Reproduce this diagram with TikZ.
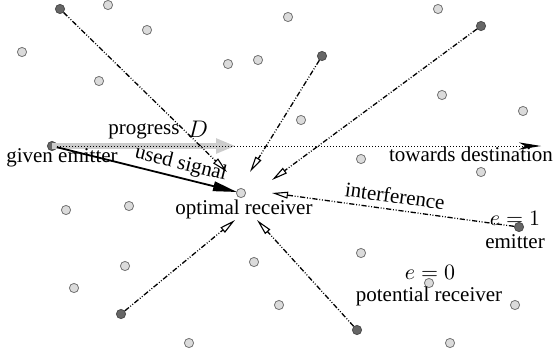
\documentclass[tikz,border=0pt]{standalone}
\usepackage{fontspec}
\setmainfont{Liberation Serif}
\usetikzlibrary{arrows.meta}
\begin{document}
\begin{tikzpicture}[x=0.5pt,y=-0.5pt,
  rx/.style={circle,draw=black!55,fill=black!14,line width=0.4pt,inner sep=0pt,minimum size=4.6pt},
  em/.style={circle,draw=black!70,fill=black!60,line width=0.4pt,inner sep=0pt,minimum size=4.6pt},
  interf/.style={line width=0.65pt,dash pattern=on 2.6pt off 0.9pt on 0.45pt off 0.9pt on 0.45pt off 0.9pt,
    -{Triangle[open,length=8pt,width=3.4pt,line width=0.55pt]}},
  lbl/.style={font=\fontsize{10.5}{12}\selectfont,inner sep=0pt}
]
\useasboundingbox (0,0) rectangle (555,359);
% potential receivers
\foreach \n/\x/\y in {a/108/5,b/147/30,c/22/52,d/99/81,f/228/64,g/258/60,h/288/17,i/438/9,j/442/95,k/523/111,
  l/301/120,m/361/159,o/481/172,p/66/210,q/129/206,r/125/266,s/74/288,u/254/262,v/279/305,w/189/343,
  z/361/253,aa/429/283,ab/515/305,ac/450/343}
  \node[rx] (r\n) at (\x,\y) {};
\node[rx] (rec) at (241,193) {};
% emitters
\node[em] (e1) at (60,9) {};
\node[em] (e2) at (322,56) {};
\node[em] (e3) at (481,26) {};
\node[em] (e4) at (519,227) {};
\node[em] (e5) at (121,314) {};
\node[em] (e6) at (357,330) {};
\node[em] (ge) at (52,146) {};
% arrow end points
\coordinate (t1) at (227,172);
\coordinate (t2) at (250,172);
\coordinate (t3) at (272,180);
\coordinate (t4) at (272,193);
\coordinate (t5) at (235,220);
\coordinate (t6) at (257,220);
\coordinate (proj) at (236,146);
\coordinate (dest) at (541,146);
\coordinate (ut) at (237,192);
% progress
\draw[line width=2.6pt,black!20,-{Triangle[length=10pt,width=7pt]}] (ge.center) -- (proj);
\draw[line width=0.5pt,dash pattern=on 0.5pt off 1pt,-{Stealth[length=11pt,width=3.6pt,inset=3pt]}] (ge) -- (dest);
% interference
\draw[interf] (e1) -- (t1);
\draw[interf] (e2) -- (t2);
\draw[interf] (e3) -- (t3);
\draw[interf] (e4) -- (t4) node[lbl,midway,sloped,above=3pt] {interference};
\draw[interf] (e5) -- (t5);
\draw[interf] (e6) -- (t6);
% used signal
\draw[line width=0.9pt,-{Triangle[length=12pt,width=4.8pt]}] (ge) -- (ut)
  node[lbl,pos=0.67,sloped,above=1.5pt] {used signal};
% labels
\node[lbl] (lge) at (62,158) {given emitter};
\node[lbl] (lpr) at (144,131) {progress};
\node[inner sep=0pt,font=\fontsize{12.5}{14}\selectfont] (lD) at (198,129) {$D$};
\node[lbl] (lor) at (244,209) {optimal receiver};
\node[lbl] (ltd) at (471,154) {towards destination};
\node[lbl] (le1) at (515,218) {$e=1$};
\node[lbl] (lem) at (515,242) {emitter};
\node[lbl] (le0) at (430,272) {$e=0$};
\node[lbl] (lpo) at (429,296) {potential receiver};
\end{tikzpicture}
\end{document}
